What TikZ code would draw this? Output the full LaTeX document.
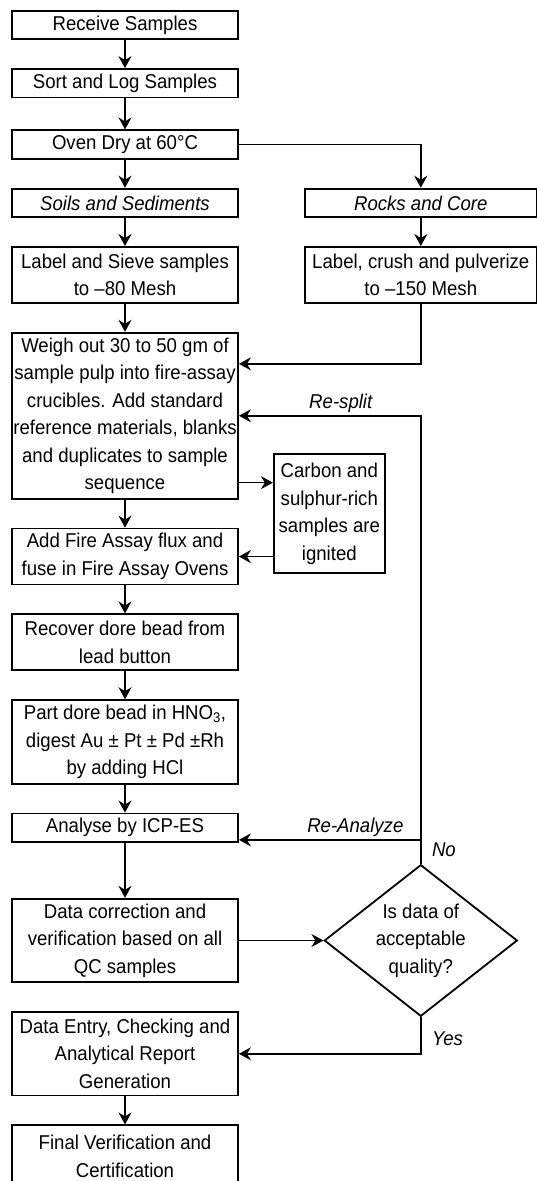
\documentclass[tikz,border=0pt]{standalone}
\usepackage{fontspec}
\setmainfont{Liberation Sans}[FakeStretch=0.93]
\usetikzlibrary{shapes.geometric,arrows.meta,positioning,calc}

\begin{document}
\begin{tikzpicture}[
    x=1pt, y=1pt,
    node distance=28pt,
    font=\fontsize{20}{27.5}\selectfont,
    rows/.style={minimum height={27.5pt*#1+1pt}},
    block/.style={rectangle, draw, line width=1.8pt, align=center, inner xsep=1pt, inner ysep=3pt, minimum width=226pt, rows=1},
    decision/.style={diamond, draw, line width=1.8pt, align=center, inner sep=-3pt, minimum width=193pt, minimum height=130pt},
    arrow/.style={line width=1.6pt, -{Stealth[length=12pt,width=13pt,inset=4pt]}},
    tag/.style={font=\fontsize{20}{27.5}\selectfont\itshape, inner sep=2pt}
]

\useasboundingbox (0,0) rectangle (537,-1181);

% Sample preparation
\node[block] (receive) at (125,-25) {Receive Samples};
\node[block, below=of receive] (sort) {Sort and Log Samples};
\node[block, below=31pt of sort] (oven) {Oven Dry at 60°C};
\node[block, below=of oven] (soils) {\itshape Soils and Sediments};
\node[block, rows=2, below=of soils] (sieve) {Label and Sieve samples\\to --80 Mesh};
\node[block, minimum width=232pt, right=65pt of soils] (rocks) {\itshape Rocks and Core};
\node[block, minimum width=232pt, rows=2, below=of rocks] (crush) {Label, crush and pulverize\\to --150 Mesh};

% Fire assay
\node[block, rows=6, below=of sieve] (weigh) {Weigh out 30 to 50 gm of\\sample pulp into fire-assay\\crucibles.  Add standard\\reference materials, blanks\\and duplicates to sample\\sequence};
\node[block, rows=2, below=of weigh] (fire) {Add Fire Assay flux and\\fuse in Fire Assay Ovens};
\node[block, minimum width=111pt, minimum height=119pt, anchor=west] (carbon) at ($(weigh.south east)!0.5!(fire.north east)+(34pt,0)$) {Carbon and\\sulphur-rich\\samples are\\ignited};
\node[block, rows=2, below=of fire] (recover) {Recover dore bead from\\lead button};
\node[block, rows=3, below=of recover] (part) {Part dore bead in HNO\textsubscript{3},\\digest Au ± Pt ± Pd ±Rh\\by adding HCl};
\node[block, below=of part] (analyse) {Analyse by ICP-ES};

% QC and reporting
\node[block, rows=3, below=55pt of analyse] (datacorr) {Data correction and\\verification based on all\\QC samples};
\node[decision] (check) at (crush |- datacorr) {Is data of\\acceptable\\quality?};
\node[block, rows=3, below=of datacorr] (entry) {Data Entry, Checking and\\Analytical Report\\Generation};
\node[block, rows=2.2, below=of entry] (final) {Final Verification and\\Certification};

% Arrows
\draw[arrow] (receive) -- (sort);
\draw[arrow] (sort) -- (oven);
\draw[arrow] (oven) -- (soils);
\draw[arrow] (oven.east) -| (rocks.north);
\draw[arrow] (soils) -- (sieve);
\draw[arrow] (rocks) -- (crush);
\draw[arrow] (sieve) -- (weigh);
\draw[arrow] (crush.south) |- ([yshift=-32pt]weigh.north east);
\draw[arrow] ([yshift=17pt]weigh.south east) -- ([yshift=17pt]weigh.south east -| carbon.west);
\draw[arrow] (carbon.west |- fire.east) -- (fire.east);
\draw[arrow] (weigh) -- (fire);
\draw[arrow] (fire) -- (recover);
\draw[arrow] (recover) -- (part);
\draw[arrow] (part) -- (analyse);
\draw[arrow] (analyse) -- (datacorr);
\draw[arrow] (datacorr) -- (check);
\draw[arrow] (entry) -- (final);

% Feedback loops
\draw[arrow] (check.north) |- node[tag, pos=0.72, above] {Re-split} (weigh.east);
\draw[arrow] (check.north) |- node[tag, pos=0.68, above] {Re-Analyze} ([yshift=3pt]analyse.south east);
\draw[arrow] (check.south) |- (entry.east);

% Labels
\node[tag, above right=5pt and 9pt of check.north] (no) {No};
\node[tag, below right=12pt and 9pt of check.south] (yes) {Yes};

\end{tikzpicture}
\end{document}
